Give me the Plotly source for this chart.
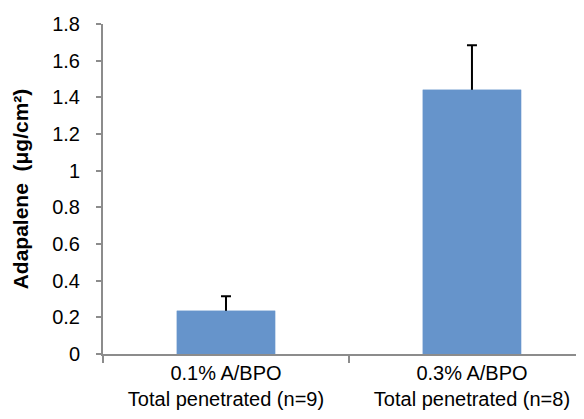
import plotly.graph_objects as go

categories = ["0.1% A/BPO<br>Total penetrated (n=9)", "0.3% A/BPO<br>Total penetrated (n=8)"]
values = [0.236, 1.442]
errors = [0.079, 0.242]
y_tickvals = [0, 0.2, 0.4, 0.6, 0.8, 1.0, 1.2, 1.4, 1.6, 1.8]
y_ticktext = ["0", "0.2", "0.4", "0.6", "0.8", "1", "1.2", "1.4", "1.6", "1.8"]

BAR_COLOR = "#6694CB"

fig = go.Figure()
# bars carrying symmetric error bars (lower half hidden by overlay bar)
fig.add_trace(go.Bar(
    x=categories,
    y=values,
    width=0.4,
    marker=dict(color=BAR_COLOR, line=dict(width=0)),
    error_y=dict(type="data", array=errors, color="#000000", thickness=2, width=5),
    hoverinfo="skip",
))
# same bars on top to hide the lower half of the error bars
fig.add_trace(go.Bar(
    x=categories,
    y=values,
    width=0.4,
    marker=dict(color=BAR_COLOR, line=dict(width=0)),
))

fig.update_layout(
    width=584, height=419,
    margin=dict(l=95, r=0, t=16, b=73),
    paper_bgcolor="white", plot_bgcolor="white",
    showlegend=False,
    barmode="overlay",
    font=dict(family="Liberation Sans, Arial, sans-serif", color="#000000"),
    xaxis=dict(
        type="category",
        range=[-0.5, 1.488],
        showline=True, linecolor="#8C8C8C", linewidth=2,
        ticks="outside", tickson="boundaries", ticklen=7, tickcolor="#8C8C8C", tickwidth=2,
        tickfont=dict(size=20, color="#000000"),
        showgrid=False, zeroline=False,
    ),
    yaxis=dict(
        range=[0, 1.8],
        tickvals=y_tickvals, ticktext=y_ticktext,
        showline=True, linecolor="#8C8C8C", linewidth=2,
        ticks="outside", ticklen=5, tickcolor="#8C8C8C", tickwidth=2,
        tickfont=dict(size=20, color="#000000"),
        ticklabelstandoff=12,
        showgrid=False, zeroline=False,
        title=dict(text="<b>Adapalene  (μg/cm²)</b>", font=dict(size=21, color="#000000"), standoff=18),
    ),
)

fig.write_html("out.html")
